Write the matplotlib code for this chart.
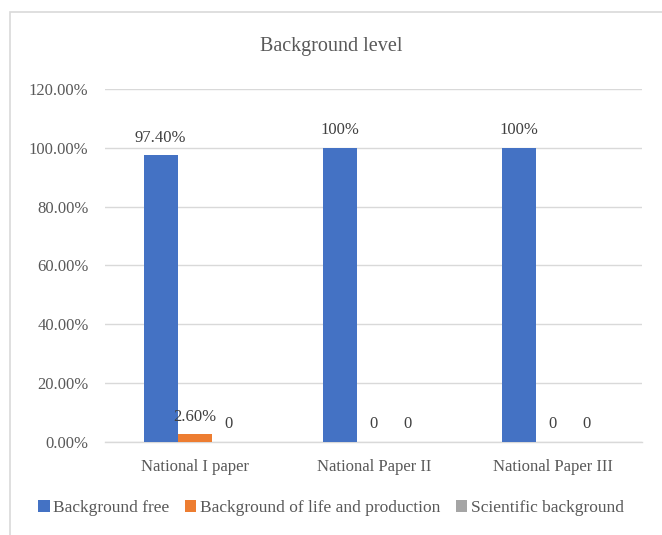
import numpy as np
import matplotlib.pyplot as plt
from matplotlib.patches import Rectangle
from matplotlib.ticker import FuncFormatter

categories = ["National I paper", "National Paper II", "National Paper III"]
series_names = ["Background free", "Background of life and production", "Scientific background"]
background_free = [97.4, 100, 100]
life_production = [2.6, 0, 0]
scientific = [0, 0, 0]
labels_free = ["97.40%", "100%", "100%"]
labels_life = ["2.60%", "0", "0"]
labels_sci = ["0", "0", "0"]

colors = ["#4472C4", "#ED7D31", "#A5A5A5"]
text_color = "#595959"

plt.rcParams["font.family"] = ["Liberation Serif", "DejaVu Serif"]

fig = plt.figure(figsize=(6.62, 5.35), dpi=100)
ax = fig.add_axes([0.159, 0.174, 0.811, 0.66])

# chart frame
fig.patches.append(Rectangle((10 / 662, -0.05), 1.0, 1 - 12 / 535 + 0.05,
                             transform=fig.transFigure, fill=False,
                             edgecolor="#D9D9D9", linewidth=1.2))

x = np.arange(len(categories))
w = 0.19
all_vals = [background_free, life_production, scientific]
all_labels = [labels_free, labels_life, labels_sci]
for i, (vals, labs) in enumerate(zip(all_vals, all_labels)):
    pos = x + (i - 1) * w
    ax.bar(pos, vals, w, color=colors[i], label=series_names[i], zorder=3)
    for px, v, lab in zip(pos, vals, labs):
        ax.text(px, v + 3.2, lab, ha="center", va="bottom", fontsize=12,
                color="#404040", zorder=4)

ax.set_ylim(0, 120)
ax.set_yticks(np.arange(0, 121, 20))
ax.yaxis.set_major_formatter(FuncFormatter(lambda v, p: f"{v:.2f}%"))
ax.set_xlim(-0.5, 2.5)
ax.set_xticks(x)
ax.set_xticklabels(categories)
ax.tick_params(length=0, labelsize=12, colors=text_color)
ax.tick_params(axis="x", pad=12)
ax.tick_params(axis="y", pad=12)
ax.grid(axis="y", color="#D9D9D9", linewidth=1, zorder=0)
for s in ["top", "right", "left"]:
    ax.spines[s].set_visible(False)
ax.spines["bottom"].set_color("#D9D9D9")
ax.spines["bottom"].set_linewidth(1)

fig.text(0.5, 1 - 46 / 535, "Background level", ha="center", va="center",
         fontsize=14.5, color=text_color)

fig.legend(loc="center", bbox_to_anchor=(0.5, 1 - 508 / 535), ncol=3,
           frameon=False, fontsize=12.5, handlelength=0.65, handleheight=0.65,
           handletextpad=0.2, columnspacing=0.9, labelcolor=text_color)

fig.savefig("out.png", dpi=100)
